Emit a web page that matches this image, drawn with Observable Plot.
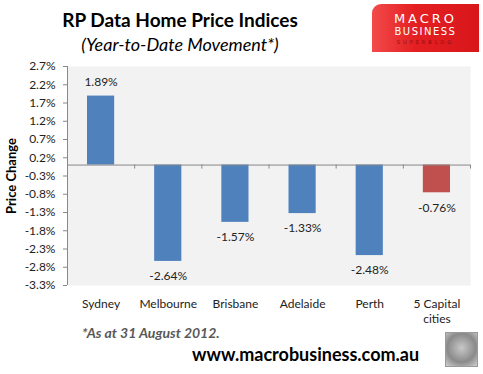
<!DOCTYPE html>
<html><head><meta charset="utf-8">
<script src="https://cdn.jsdelivr.net/npm/d3@7"></script>
<script src="https://cdn.jsdelivr.net/npm/@observablehq/plot@0.6"></script>
<style>
body{margin:0;background:#fff;}
#wrap{position:relative;width:483px;height:374px;overflow:hidden;font-family:Lato,sans-serif;}
#wrap svg{position:absolute;left:0;top:0;}
.abs{position:absolute;white-space:nowrap;line-height:1;}
#title{left:0;width:360px;top:10px;text-align:center;font-weight:bold;font-size:19px;color:#000;}
#subtitle{left:0;width:360px;top:35px;text-align:center;font-style:italic;font-size:18px;color:#000;}
#logo{left:372px;top:4px;width:107px;height:48px;background:linear-gradient(90deg,#f24a4a 0%,#e41f22 40%,#d8171b 100%);border-top-left-radius:9px;}
#logo .m{position:absolute;left:0;width:107px;text-align:center;color:#fff;font-family:"DejaVu Sans",sans-serif;line-height:1;}
#note{left:82px;top:326px;font-weight:bold;font-style:italic;font-size:14px;color:#595959;}
#url{left:192px;top:345px;font-weight:bold;font-size:18px;color:#000;}
#wolf{left:445px;top:332px;width:31px;height:33px;border:1px solid #9a9a9a;background:radial-gradient(circle at 50% 45%,#c8c8c8,#8a8a8a 60%,#d0d0d0);}
</style></head>
<body>
<div id="wrap">
  <div id="chart"></div>
  <div class="abs" id="title">RP Data Home Price Indices</div>
  <div class="abs" id="subtitle">(Year-to-Date Movement*)</div>
  <div class="abs" id="logo">
    <div class="m" style="top:8px;font-size:13px;letter-spacing:3px;">MACRO</div>
    <div class="m" style="top:23px;font-size:10px;letter-spacing:1.5px;">BUSINESS</div>
    <div class="m" style="top:36px;font-size:5px;letter-spacing:3px;color:#8a0d10;">SUPERBLOG</div>
  </div>
  <div class="abs" id="note">*As at 31 August 2012.</div>
  <div class="abs" id="url">www.macrobusiness.com.au</div>
  <div class="abs" id="wolf"></div>
</div>
<script>
const categories = ["Sydney","Melbourne","Brisbane","Adelaide","Perth","5 Capital cities"];
const categoryLabels = ["Sydney","Melbourne","Brisbane","Adelaide","Perth","5 Capital\ncities"];
const values = [1.89,-2.64,-1.57,-1.33,-2.48,-0.76];
const valueLabels = ["1.89%","-2.64%","-1.57%","-1.33%","-2.48%","-0.76%"];
const colors = ["#4f81bd","#4f81bd","#4f81bd","#4f81bd","#4f81bd","#c0504d"];
const yTicks = [2.7,2.2,1.7,1.2,0.7,0.2,-0.3,-0.8,-1.3,-1.8,-2.3,-2.8,-3.3];

const data = categories.map((c,i)=>({i, c, label: categoryLabels[i], v: values[i], vl: valueLabels[i], col: colors[i]}));
const bounds = d3.range(categories.length + 1);

const chart = Plot.plot({
  width: 483, height: 374,
  marginLeft: 67, marginRight: 13, marginTop: 66, marginBottom: 89,
  style: {fontFamily: "Lato, sans-serif", fontSize: "12px", color: "#222", background: "transparent"},
  x: {domain: [0, categories.length], axis: null},
  y: {domain: [-3.3, 2.7], axis: null},
  marks: [
    Plot.frame({fill: "#f2f2f2", stroke: null}),
    Plot.rectY(data, {x1: d => d.i, x2: d => d.i + 1, y1: 0, y2: "v", fill: "col", insetLeft: 20, insetRight: 20}),
    Plot.ruleY([0], {stroke: "#888"}),
    Plot.ruleX(bounds, {x: d => d, y1: 0, y2: -0.11, stroke: "#888"}),
    Plot.ruleX([0], {stroke: "#888"}),
    Plot.axisY({ticks: yTicks, tickFormat: d => d.toFixed(1) + "%", tickSize: 4, tickPadding: 8, stroke: "#888", fill: "#222", fontSize: 12, label: null}),
    Plot.text(["Price Change"], {frameAnchor: "left", textAnchor: "middle", rotate: -90, dx: -56, text: d => d, fontWeight: "bold", fontSize: 13, fill: "#000"}),
    Plot.text(data.filter(d => d.v >= 0), {x: d => d.i + 0.5, y: "v", text: "vl", dy: -14, fontSize: 12, fill: "#222"}),
    Plot.text(data.filter(d => d.v < 0), {x: d => d.i + 0.5, y: "v", text: "vl", dy: 15, fontSize: 12, fill: "#222"}),
    Plot.text(categoryLabels, {x: (d,i) => i + 0.5, frameAnchor: "bottom", text: d => d, lineAnchor: "top", dy: 11, fontSize: 12, fill: "#222", lineHeight: 1.3})
  ]
});
document.getElementById("chart").appendChild(chart);
</script>
</body></html>
